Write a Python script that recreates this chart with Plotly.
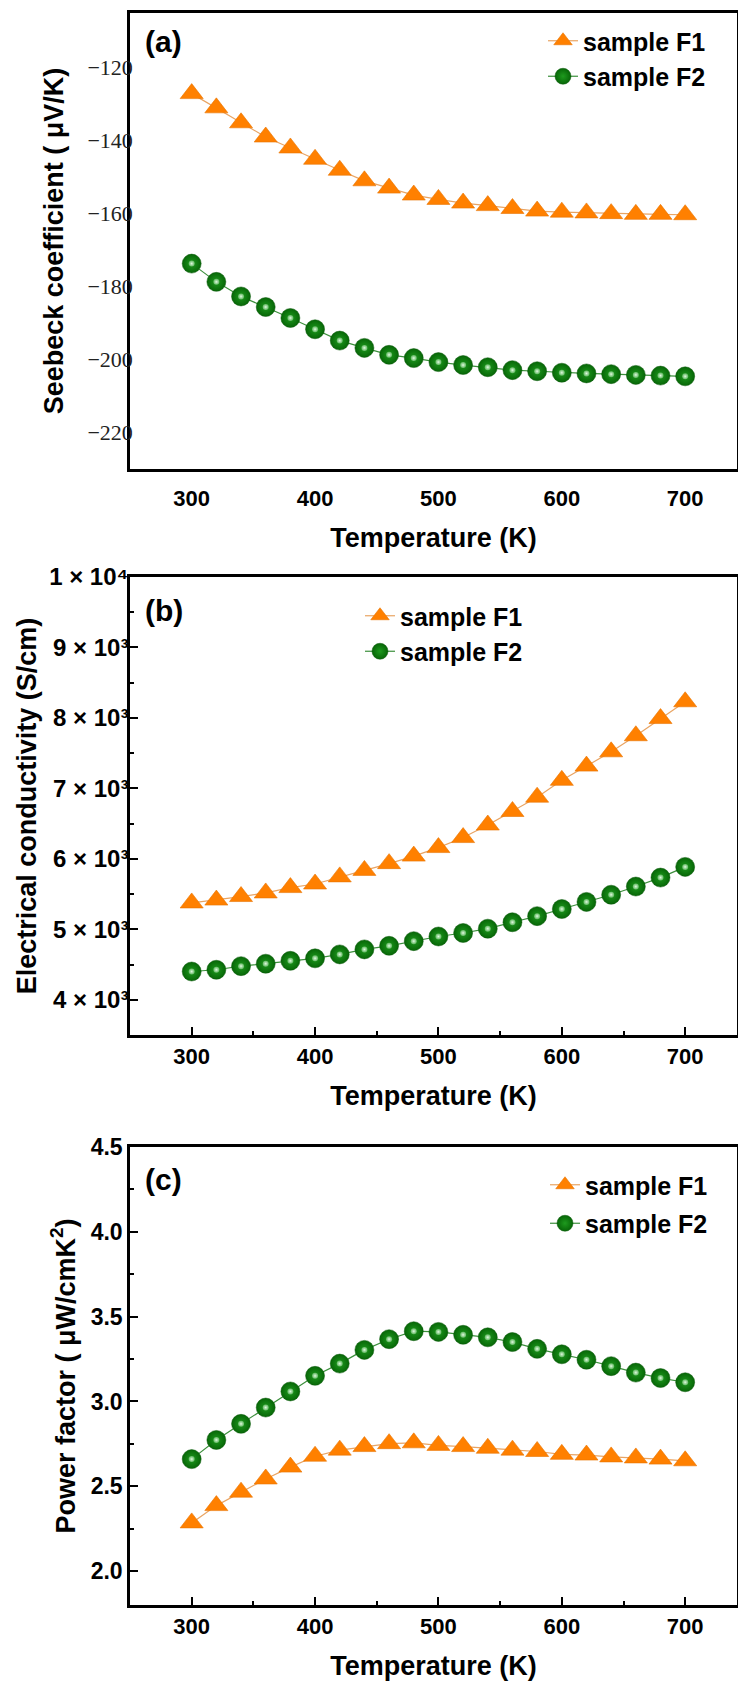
import plotly.graph_objects as go

# ---------------- data ----------------
temperature = [300, 320, 340, 360, 380, 400, 420, 440, 460, 480, 500,
               520, 540, 560, 580, 600, 620, 640, 660, 680, 700]

seebeck_F1 = [-127.1, -131.0, -135.1, -139.0, -142.0, -145.1, -148.1, -151.0, -153.0, -154.9, -156.1,
              -157.1, -157.8, -158.6, -159.3, -159.6, -159.8, -160.0, -160.2, -160.2, -160.3]
seebeck_F2 = [-173.7, -178.7, -182.7, -185.6, -188.6, -191.7, -194.8, -196.8, -198.7, -199.6, -200.7,
              -201.5, -202.1, -202.9, -203.2, -203.6, -203.8, -204.0, -204.2, -204.4, -204.6]

sigma_F1 = [5374, 5415, 5465, 5516, 5592, 5643, 5744, 5836, 5932, 6039, 6160,
            6302, 6480, 6672, 6875, 7114, 7316, 7519, 7747, 7991, 8229]
sigma_F2 = [4401, 4426, 4477, 4512, 4553, 4588, 4644, 4715, 4766, 4832, 4898,
            4948, 5009, 5100, 5187, 5288, 5389, 5491, 5607, 5734, 5886]

pf_F1 = [2.284, 2.386, 2.465, 2.543, 2.613, 2.677, 2.713, 2.734, 2.751, 2.756, 2.741,
         2.734, 2.724, 2.713, 2.705, 2.688, 2.684, 2.673, 2.667, 2.660, 2.650]
pf_F2 = [2.660, 2.773, 2.868, 2.964, 3.059, 3.151, 3.223, 3.304, 3.367, 3.414, 3.410,
         3.393, 3.378, 3.350, 3.310, 3.278, 3.246, 3.208, 3.170, 3.138, 3.113]

x_ticks = [300, 400, 500, 600, 700]
seebeck_ticks = [-120, -140, -160, -180, -200, -220]
sigma_ticks = [4000, 5000, 6000, 7000, 8000, 9000, 10000]
sigma_ticktext = ["4 × 10³", "5 × 10³", "6 × 10³", "7 × 10³",
                  "8 × 10³", "9 × 10³", "1 × 10⁴"]
pf_ticks = [2.0, 2.5, 3.0, 3.5, 4.0, 4.5]

series_names = ["sample F1", "sample F2"]
panel_labels = ["(a)", "(b)", "(c)"]
x_title = "Temperature (K)"
y_titles = ["Seebeck coefficient ( μV/K)", "Electrical conductivity (S/cm)",
            "Power factor ( μW/cmK<sup>2</sup>)"]

# ---------------- layout helpers ----------------
W, H = 738, 1684
SANS = "Arial, Liberation Sans, DejaVu Sans, sans-serif"
SERIF = "Times New Roman, Liberation Serif, serif"
ORANGE = "#FF8000"


def fx(p):
    return p / W


def fy(p):
    return 1 - p / H


panels = [  # top, bottom (px)
    (13, 469),
    (577, 1035),
    (1147, 1605),
]
x_dom = [fx(130), fx(737)]

fig = go.Figure()

datasets = [(seebeck_F1, seebeck_F2), (sigma_F1, sigma_F2), (pf_F1, pf_F2)]
legend_names = ["legend", "legend2", "legend3"]

for i, (d1, d2) in enumerate(datasets):
    xa = "x" if i == 0 else f"x{i+1}"
    ya = "y" if i == 0 else f"y{i+1}"
    lg = legend_names[i]
    fig.add_trace(go.Scatter(
        x=temperature, y=d1, name=series_names[0], mode="lines+markers",
        xaxis=xa, yaxis=ya, legend=lg, legendgroup=f"g1_{i}",
        line=dict(color="#E9A463", width=1.2),
        marker=dict(symbol="triangle-up", size=20, color=ORANGE,
                    line=dict(color="#E87400", width=0.6)),
    ))
    fig.add_trace(go.Scatter(
        x=temperature, y=d2, name=series_names[1], mode="lines+markers",
        xaxis=xa, yaxis=ya, legend=lg, legendgroup=f"g2_{i}",
        line=dict(color="#3C8F3C", width=1.2),
        marker=dict(symbol="circle", size=19, color="#076607",
                    gradient=dict(type="radial", color="#1E9A1E"),
                    line=dict(color="#0A5A0A", width=0.5)),
    ))
    # glossy highlight on green balls
    fig.add_trace(go.Scatter(
        x=temperature, y=d2, mode="markers", showlegend=False, hoverinfo="skip",
        xaxis=xa, yaxis=ya,
        marker=dict(symbol="circle", size=6, color="rgba(150,215,150,0.6)",
                    gradient=dict(type="radial", color="rgba(240,255,240,0.95)")),
    ))

axis_common = dict(showline=True, linewidth=2.5, linecolor="black", mirror=True,
                   showgrid=False, zeroline=False, automargin=False)

layout = dict(
    width=W, height=H, autosize=False,
    margin=dict(l=0, r=0, t=0, b=0, pad=0),
    paper_bgcolor="white", plot_bgcolor="white",
    template="none",
    showlegend=True,
)

y_ranges = [[-230, -105], [3500, 10000], [1.8, 4.5]]
y_label_standoff = [-10, -6, 0]
y_title_standoff = [16, 5, 8]
for i, (top, bot) in enumerate(panels):
    sx = "" if i == 0 else str(i + 1)
    ticks = "" if i == 0 else "inside"
    tlen = 0 if i == 0 else 8
    xa = dict(axis_common,
              domain=x_dom, range=[250, 742], anchor="y" + sx,
              tickmode="array", tickvals=x_ticks,
              ticks=ticks, ticklen=tlen, tickwidth=2, tickcolor="black",
              tickfont=dict(family=SANS, size=22, color="black", weight="bold"),
              ticklabelstandoff=0 if i > 0 else 8,
              title=dict(text=x_title, standoff=18,
                         font=dict(family=SANS, size=27, color="black", weight="bold")))
    if i > 0:
        xa["minor"] = dict(dtick=50, ticks="inside", ticklen=4, tickwidth=2, tickcolor="black")
    ya = dict(axis_common,
              domain=[fy(bot), fy(top)], range=y_ranges[i], anchor="x" + sx,
              ticks=ticks, ticklen=tlen, tickwidth=2, tickcolor="black",
              ticklabelstandoff=y_label_standoff[i],
              title=dict(text=y_titles[i], standoff=y_title_standoff[i],
                         font=dict(family=SANS, size=27, color="black", weight="bold")))
    if i == 0:
        ya.update(tickmode="array", tickvals=seebeck_ticks,
                  tickfont=dict(family=SERIF, size=22, color="#222222"))
    elif i == 1:
        ya.update(tickmode="array", tickvals=sigma_ticks, ticktext=sigma_ticktext,
                  tickfont=dict(family=SANS, size=24, color="black", weight="bold"),
                  minor=dict(dtick=500, ticks="inside", ticklen=4, tickwidth=2, tickcolor="black"))
    else:
        ya.update(tickmode="array", tickvals=pf_ticks, tickformat=".1f",
                  tickfont=dict(family=SANS, size=23, color="black", weight="bold"),
                  minor=dict(dtick=0.25, ticks="inside", ticklen=4, tickwidth=2, tickcolor="black"))
    layout["xaxis" + sx] = xa
    layout["yaxis" + sx] = ya

# legends (marker centre px x, first row centre px y)
legend_pos = [(563, 35), (380, 610), (565, 1179)]
for i, (cx, cy) in enumerate(legend_pos):
    layout[legend_names[i]] = dict(
        x=fx(cx - 20), y=fy(cy - 17), xanchor="left", yanchor="top",
        bgcolor="rgba(0,0,0,0)", borderwidth=0,
        font=dict(family=SANS, size=25, color="black", weight="bold"),
        tracegroupgap=0 if i < 2 else 3, itemwidth=30,
    )

label_pos = [42, 610, 1179]
annotations = []
for i, ly in enumerate(label_pos):
    annotations.append(dict(
        text=panel_labels[i], x=fx(143), y=fy(ly), xref="paper", yref="paper",
        xanchor="left", yanchor="middle", showarrow=False,
        font=dict(family=SANS, size=30, color="black", weight="bold")))
layout["annotations"] = annotations

fig.update_layout(**layout)
fig.write_html("out.html")
